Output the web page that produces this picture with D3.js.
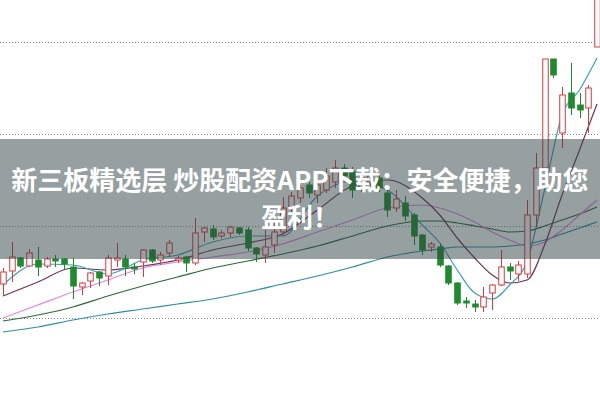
<!DOCTYPE html>
<html>
<head>
<meta charset="utf-8">
<title>K线</title>
<script src="https://d3js.org/d3.v7.min.js"></script>
<style>
  html, body { margin: 0; padding: 0; background: #fff; }
  svg { display: block; }
</style>
</head>
<body>
<svg width="600" height="399"></svg>
<script>
// daily candles, left to right
var opens  = [7.14,7.27,7.40,7.32,7.38,7.32,7.39,7.39,7.31,7.11,7.17,7.26,7.22,7.38,7.39,7.31,7.36,7.48,7.38,7.45,
              7.38,7.41,7.35,7.66,7.69,7.62,7.65,7.70,7.68,7.50,7.43,7.53,7.66,7.90,8.00,8.13,8.03,8.08,8.16,8.30,
              8.26,8.10,8.16,8.20,8.05,7.90,7.95,7.83,7.63,7.51,7.51,7.32,7.15,6.97,6.94,6.91,7.05,7.13,7.31,7.24,
              7.24,7.83,8.30,9.39,8.65,9.05,8.93,8.90,9.51];
var highs  = [7.30,7.56,7.41,7.49,7.51,7.41,7.43,7.40,7.40,7.16,7.26,7.27,7.43,7.55,7.43,7.35,7.49,7.49,7.46,7.58,
              7.42,7.42,7.80,7.71,7.73,7.68,7.72,7.71,7.71,7.51,7.68,7.76,8.01,8.06,8.13,8.16,8.17,8.30,8.38,8.34,
              8.31,8.24,8.28,8.23,8.13,8.08,8.02,7.85,7.64,7.56,7.55,7.33,7.16,7.01,6.98,7.11,7.14,7.48,7.35,7.37,
              7.98,8.45,9.39,9.39,9.11,9.35,9.05,9.13,10.28];
var lows   = [7.03,7.16,7.30,7.31,7.22,7.30,7.31,7.28,6.99,7.03,7.10,7.12,7.13,7.31,7.22,7.24,7.21,7.35,7.33,7.41,
              7.35,7.26,7.33,7.56,7.58,7.60,7.61,7.63,7.47,7.36,7.35,7.45,7.62,7.86,7.95,8.00,7.95,8.05,8.10,8.18,
              8.00,8.06,8.12,8.06,7.81,7.86,7.77,7.53,7.43,7.46,7.31,7.13,6.93,6.90,6.86,6.86,6.88,7.12,7.18,7.17,
              7.20,7.71,8.30,9.20,8.50,8.83,8.80,8.65,9.51];
var closes = [7.26,7.41,7.32,7.45,7.31,7.39,7.37,7.34,7.12,7.15,7.25,7.20,7.40,7.40,7.31,7.29,7.48,7.37,7.43,7.55,
              7.40,7.35,7.65,7.70,7.61,7.65,7.71,7.65,7.50,7.44,7.51,7.66,7.90,8.02,8.10,8.05,8.13,8.22,8.30,8.22,
              8.08,8.20,8.24,8.10,7.88,7.99,7.82,7.62,7.48,7.54,7.33,7.15,6.95,6.95,6.91,7.01,7.13,7.31,7.27,7.33,
              7.83,8.30,9.39,9.23,9.03,8.90,8.88,9.10,10.28];

// moving averages, read at these candle positions
var maDays = [0,4,8,12,16,20,24,28,32,36,40,44,48,50,52,54,56,58,60,62,64,66,68];
var ma5  = [7.13,7.34,7.33,7.24,7.38,7.43,7.56,7.62,7.62,8.02,8.17,8.08,7.73,7.55,7.28,7.05,6.99,7.13,7.37,8.08,8.83,9.08,9.40];
var ma10 = [7.02,7.16,7.30,7.28,7.32,7.38,7.48,7.55,7.64,7.88,8.12,8.18,8.00,7.83,7.60,7.40,7.23,7.15,7.18,7.53,8.03,8.48,8.94];
var ma20 = [6.80,6.93,7.06,7.18,7.30,7.36,7.41,7.46,7.54,7.66,7.78,7.90,7.93,7.90,7.84,7.76,7.66,7.58,7.52,7.56,7.68,7.83,7.98];
var ma30 = [6.77,6.83,6.91,7.02,7.12,7.21,7.30,7.37,7.44,7.52,7.62,7.72,7.77,7.77,7.75,7.72,7.69,7.66,7.67,7.72,7.78,7.84,7.91];
var ma60 = [6.66,6.71,6.78,6.84,6.89,6.94,6.99,7.06,7.14,7.22,7.31,7.41,7.47,7.49,7.51,7.51,7.51,7.52,7.54,7.58,7.64,7.70,7.76];

var gridPrices = [6.80, 7.72, 8.64, 9.56];
var titleLines = ["新三板精选层 炒股配资APP下载：安全便捷，助您", "盈利！"];

const W = 600, H = 399;
var svg = d3.select('svg');

var days = opens.map(function(d, i) { return i; });
var candles = days.map(function(i) {
  return { i: i, o: opens[i], h: highs[i], l: lows[i], c: closes[i] };
});

const xScale = d3.scalePoint().domain(days).range([3, 597]);
const yScale = d3.scaleLinear().domain([6.80, 9.56]).range([318, 42]);

// dotted grid
var grid = svg.append('g')
  .call(d3.axisLeft(yScale).tickValues(gridPrices).tickSize(-W).tickFormat(''));
grid.select('.domain').remove();
grid.selectAll('.tick line')
  .attr('stroke', '#8a8a8a')
  .attr('stroke-dasharray', '1,2');

// moving average lines
var maList = [
  { vals: ma60, color: '#2f8fa2' },
  { vals: ma30, color: '#2c6a3a' },
  { vals: ma20, color: '#e585e5' },
  { vals: ma10, color: '#6e3458' },
  { vals: ma5,  color: '#37a3b8' }
];
var line = d3.line()
  .x(function(d) { return xScale(d[0]); })
  .y(function(d) { return yScale(d[1]); })
  .curve(d3.curveMonotoneX);

svg.append('g').selectAll('path')
  .data(maList)
  .enter()
  .append('path')
  .attr('fill', 'none')
  .attr('stroke', function(d) { return d.color; })
  .attr('stroke-width', 1.2)
  .attr('d', function(d) { return line(maDays.map(function(k, j) { return [k, d.vals[j]]; })); });

// candles
const bw = 5.5;
var up = function(d) { return d.c >= d.o; };
var cg = svg.append('g').selectAll('g')
  .data(candles)
  .enter()
  .append('g');

cg.append('line')
  .attr('x1', function(d) { return Math.round(xScale(d.i)) + 0.5; })
  .attr('x2', function(d) { return Math.round(xScale(d.i)) + 0.5; })
  .attr('y1', function(d) { return yScale(d.h); })
  .attr('y2', function(d) { return yScale(d.l); })
  .attr('stroke', function(d) { return up(d) ? '#d93a3f' : '#1f8b2f'; })
  .attr('stroke-width', 1);

cg.append('rect')
  .attr('x', function(d) { return Math.round(xScale(d.i)) + 0.5 - bw / 2; })
  .attr('y', function(d) { return yScale(Math.max(d.o, d.c)); })
  .attr('width', bw)
  .attr('height', function(d) { return Math.max(1.5, Math.abs(yScale(d.o) - yScale(d.c))); })
  .attr('fill', function(d) { return up(d) ? '#fff' : '#1f8b2f'; })
  .attr('stroke', function(d) { return up(d) ? '#d93a3f' : '#1f8b2f'; })
  .attr('stroke-width', 1);

// grey title banner
svg.append('rect')
  .attr('x', 0).attr('y', 139)
  .attr('width', W).attr('height', 120)
  .attr('fill', 'rgb(45,65,65)')
  .attr('fill-opacity', 0.5);

svg.append('g').selectAll('text')
  .data(titleLines)
  .enter()
  .append('text')
  .attr('x', W / 2)
  .attr('y', function(d, i) { return 190 + i * 37; })
  .attr('text-anchor', 'middle')
  .attr('fill', '#fff')
  .style('font-family', '"Noto Sans CJK SC", sans-serif')
  .style('font-weight', 'bold')
  .style('font-size', '26px')
  .text(function(d) { return d; });
</script>
</body>
</html>
